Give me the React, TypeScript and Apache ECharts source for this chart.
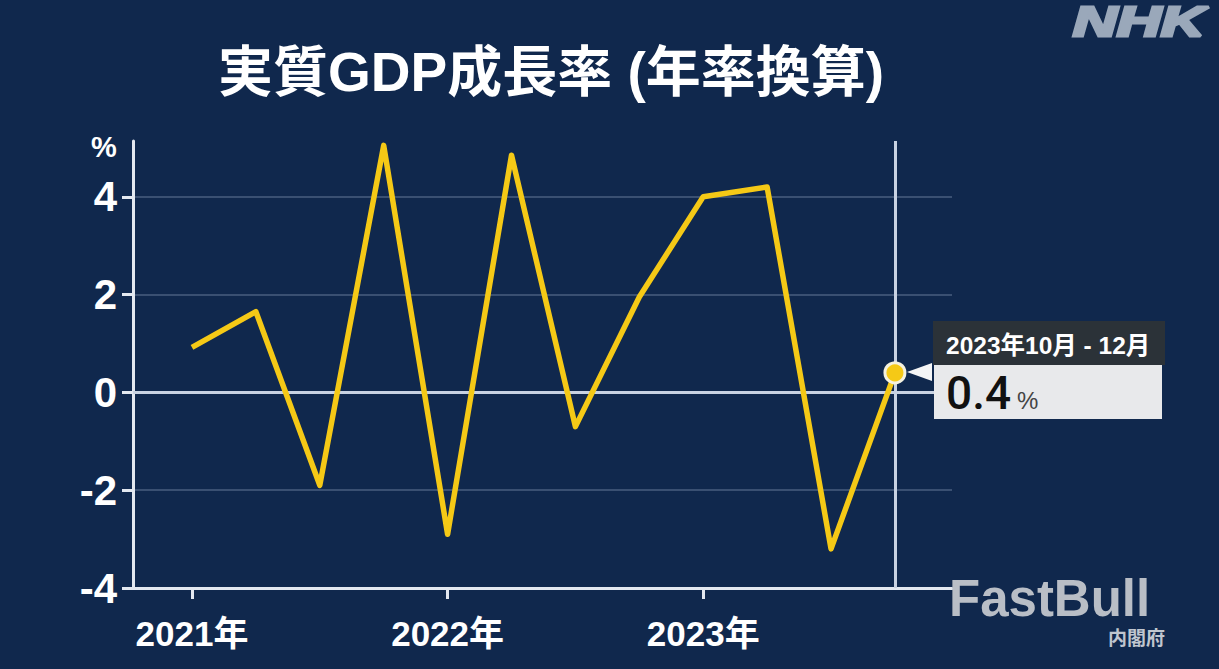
import { useEffect, useRef } from "react";
import * as echarts from "echarts";

const years = ["2021年", "2022年", "2023年"];
const yearTicks = [0, 4, 8];
const growth = [0.92, 1.65, -1.9, 5.05, -2.9, 4.85, -0.7, 1.95, 4.0, 4.2, -3.2, 0.4];
const yTicks = [-4, -2, 0, 2, 4];

const font = "'Liberation Sans', 'Noto Sans CJK JP', sans-serif";
const axisColor = "#e3e8f0";

const App: React.FC = () => {
  const chartRef = useRef<HTMLDivElement>(null);

  useEffect(() => {
    if (!chartRef.current) return;
    const myChart = echarts.init(chartRef.current, null, { renderer: "svg" });

    myChart.setOption({
      animation: false,
      backgroundColor: "#10284d",
      title: {
        text: "実質GDP成長率 (年率換算)",
        left: 546,
        top: 39,
        textAlign: "center",
        textStyle: { color: "#ffffff", fontFamily: font, fontSize: 55, fontWeight: "bold" },
      },
      grid: { left: 133, right: 267, top: 141, bottom: 81 },
      xAxis: {
        type: "value",
        min: -0.923,
        max: 11.893,
        axisLine: { onZero: false, lineStyle: { color: axisColor, width: 3 } },
        axisTick: { length: 11, customValues: yearTicks, lineStyle: { color: axisColor, width: 3 } },
        axisLabel: {
          customValues: yearTicks,
          formatter: (v: number) => years[yearTicks.indexOf(v)] ?? "",
          color: "#ffffff",
          fontFamily: font,
          fontSize: 35,
          fontWeight: "bold",
          margin: 28,
        },
        splitLine: { show: false },
      },
      yAxis: {
        type: "value",
        min: -4,
        max: 5.14,
        interval: 2,
        axisLine: { show: true, onZero: false, lineStyle: { color: axisColor, width: 3 } },
        axisTick: { show: true, length: 11, customValues: yTicks, lineStyle: { color: axisColor, width: 3 } },
        axisLabel: {
          customValues: yTicks,
          color: "#ffffff",
          fontFamily: font,
          fontSize: 42,
          fontWeight: "bold",
          margin: 16,
        },
        splitLine: { show: true, lineStyle: { color: "#3a5072", width: 2 } },
      },
      series: [
        {
          type: "line",
          data: growth.map((v, i) => [i, v]),
          symbol: "none",
          lineStyle: { color: "#f5c916", width: 5.5, join: "round" },
          markLine: {
            silent: true,
            symbol: "none",
            label: { show: false },
            z: 1,
            data: [
              { yAxis: 0, lineStyle: { color: "#c8d2e2", width: 3, type: "solid" } },
              { xAxis: growth.length - 1, lineStyle: { color: "#c8d2e2", width: 3, type: "solid" } },
            ],
          },
          markPoint: {
            silent: true,
            symbol: "circle",
            symbolSize: 20,
            itemStyle: { color: "#f5c916", borderColor: "#f4f1df", borderWidth: 3 },
            label: { show: false },
            data: [{ xAxis: growth.length - 1, yAxis: growth[growth.length - 1] }],
          },
          z: 3,
        },
      ],
      graphic: [
        { type: "text", x: 91, y: 132, z: 10, style: { text: "%", fill: "#fff", font: `bold 29px ${font}` } },
        { type: "rect", z: 10, shape: { x: 933, y: 321, width: 232, height: 44 }, style: { fill: "#2b3238" } },
        { type: "rect", z: 10, shape: { x: 934, y: 365, width: 228, height: 54 }, style: { fill: "#e8e9eb" } },
        { type: "polygon", z: 11, shape: { points: [[907, 372], [932, 363], [932, 381]] }, style: { fill: "#f4f5f6" } },
        { type: "text", x: 946, y: 333, z: 11, style: { text: "2023年10月 - 12月", fill: "#fff", font: `bold 24.5px ${font}` } },
        { type: "text", x: 946, y: 370, z: 11, style: { text: "0.4", fill: "#111", font: `500 46px Roboto, ${font}` } },
        { type: "text", x: 1017, y: 388, z: 11, style: { text: "%", fill: "#444", font: `24px ${font}` } },
        {
          type: "text", x: 1073, y: 22, z: 11, scaleX: 1.45,
          style: {
            text: "NHK", fill: "#9aa8ba", stroke: "#9aa8ba", lineWidth: 3, verticalAlign: "middle",
            font: `italic bold 42px ${font}`,
          },
        },
        {
          type: "text", x: 949, y: 573, z: 11,
          style: { text: "FastBull", fill: "#b9bec6", font: `bold 51px ${font}` },
        },
        { type: "text", x: 1108, y: 629, z: 11, style: { text: "内閣府", fill: "#c0c6cf", font: `bold 19px ${font}` } },
      ],
    });

    return () => {
      myChart.dispose();
    };
  }, []);

  return <div ref={chartRef} style={{ position: "fixed", left: 0, top: 0, width: "1219px", height: "669px" }} />;
};

export default App;
